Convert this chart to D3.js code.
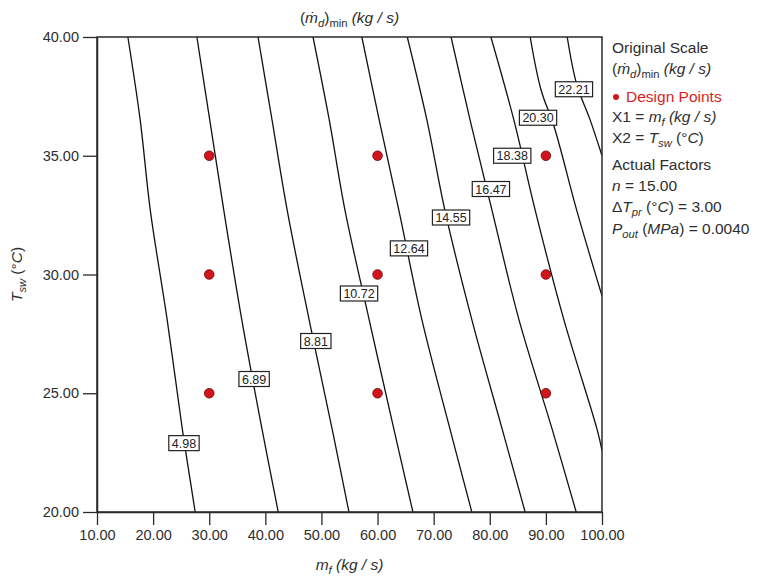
<!DOCTYPE html>
<html>
<head>
<meta charset="utf-8">
<script src="https://cdn.jsdelivr.net/npm/d3@7"></script>
<style>
  html, body { margin: 0; padding: 0; background: #fff; }
  svg { display: block; font-family: "Liberation Sans", Arial, Helvetica, sans-serif; }
</style>
</head>
<body>
<svg id="chart" width="757" height="578"></svg>
<script>
// ---------------- DATA ----------------
const xTicks = [10, 20, 30, 40, 50, 60, 70, 80, 90, 100];
const yTicks = [20, 25, 30, 35, 40];

const levels = [4.98, 6.89, 8.81, 10.72, 12.64, 14.55, 16.47, 18.38, 20.30, 22.21];

// contour paths, [m_f, T_sw]
const contour498  = [[15.5,40],[17.7,36.5],[19.5,32.7],[22.5,28.1],[25.2,23.5],[27.5,20]];
const contour689  = [[27.8,40],[30.1,36.5],[32.6,32.7],[35.8,28.1],[39.4,23.5],[42.3,20]];
const contour881  = [[38.7,40],[41.2,36.5],[43.9,32.7],[47.8,28.1],[51.9,23.5],[54.9,20]];
const contour1072 = [[48.5,40],[51.4,36.5],[54.2,32.7],[58.5,28.1],[62.9,23.5],[66.3,20]];
const contour1264 = [[57.2,40],[60.3,36.5],[63.8,32.7],[67.9,28.1],[72.9,23.5],[76.8,20]];
const contour1455 = [[65.3,40],[68.8,36.5],[72.0,32.7],[76.8,28.1],[82.2,23.5],[86.3,20]];
const contour1647 = [[73.1,40],[76.5,36.5],[80.4,32.7],[85.2,28.1],[91.1,23.5],[95.4,20]];
const contour1838 = [[80.2,40],[84.3,36.5],[88.1,32.7],[93.2,28.1],[99.1,23.5],[100,22.6]];
const contour2030 = [[87.2,40],[89.1,37.8],[91.5,36.2],[95.5,32.7],[100,29.1]];
const contour2221 = [[93.8,40],[95.5,38.0],[97.9,36.5],[100,35.0]];
const contours = [contour498, contour689, contour881, contour1072, contour1264,
                  contour1455, contour1647, contour1838, contour2030, contour2221];

// contour label anchors [m_f, T_sw]
const labelMf = [25.5, 38.0, 49.0, 56.7, 65.6, 73.1, 80.2, 84.0, 88.6, 95.0];
const labelT  = [22.9, 25.6, 27.2, 29.2, 31.1, 32.4, 33.6, 35.0, 36.6, 37.8];

// design points
const designMf = [30, 30, 30, 60, 60, 60, 90, 90, 90];
const designT  = [25, 30, 35, 25, 30, 35, 25, 30, 35];

// ---------------- LAYOUT ----------------
const svg = d3.select("#chart");
const L = 97, R = 602, T = 37, B = 512;
const x = d3.scaleLinear().domain([10, 100]).range([L, R]);
const y = d3.scaleLinear().domain([20, 40]).range([B, T]);
const ink = "#2a2a2a";

svg.append("defs").append("clipPath").attr("id", "plotclip")
  .append("rect").attr("x", L).attr("y", T).attr("width", R - L).attr("height", B - T);

// contour lines
const line = d3.line().x(d => x(d[0])).y(d => y(d[1])).curve(d3.curveCatmullRom.alpha(0.5));
const g = svg.append("g").attr("clip-path", "url(#plotclip)");
g.selectAll("path.contour").data(contours).enter().append("path")
  .attr("class", "contour")
  .attr("d", line)
  .attr("fill", "none")
  .attr("stroke", "#111")
  .attr("stroke-width", 1.3);

// contour labels
const lab = svg.append("g");
levels.forEach((lv, i) => {
  const cx = x(labelMf[i]), cy = y(labelT[i]);
  const gg = lab.append("g");
  const rect = gg.append("rect");
  const t = gg.append("text")
    .attr("x", cx).attr("y", cy + 4.5)
    .attr("text-anchor", "middle")
    .attr("font-size", 12.5)
    .attr("fill", "#222")
    .text(lv.toFixed(2));
  const w = t.node().getComputedTextLength() + 6;
  rect.attr("x", cx - w / 2).attr("y", cy - 7.5).attr("width", w).attr("height", 15)
    .attr("fill", "#fff").attr("stroke", "#222").attr("stroke-width", 1.2);
});

// design points
svg.append("g").selectAll("circle").data(designMf).enter().append("circle")
  .attr("cx", (d, i) => x(d))
  .attr("cy", (d, i) => y(designT[i]))
  .attr("r", 4.8)
  .attr("fill", "#d0161c")
  .attr("stroke", "#7a0e0e")
  .attr("stroke-width", 0.9);

// frame
svg.append("rect").attr("x", L).attr("y", T).attr("width", R - L).attr("height", B - T)
  .attr("fill", "none").attr("stroke", ink).attr("stroke-width", 1.5);

// axes
const xAxis = d3.axisBottom(x).tickValues(xTicks).tickFormat(d => d.toFixed(2))
  .tickSize(13).tickPadding(5).tickSizeOuter(0);
const yAxis = d3.axisLeft(y).tickValues(yTicks).tickFormat(d => d.toFixed(2))
  .tickSize(14).tickPadding(4).tickSizeOuter(0);
const gx = svg.append("g").attr("transform", `translate(0,${B})`).call(xAxis);
const gy = svg.append("g").attr("transform", `translate(${L},0)`).call(yAxis);
[gx, gy].forEach(a => {
  a.select(".domain").attr("stroke", ink).attr("stroke-width", 1.5);
  a.selectAll(".tick line").attr("stroke", ink).attr("stroke-width", 1.3);
  a.selectAll(".tick text").attr("font-size", 14.5).attr("fill", "#2e2e2e")
    .attr("font-family", '"Liberation Sans", Arial, sans-serif');
});

// helper to add rich text
function rich(parent, xx, yy, parts, opts = {}) {
  const size = opts.size || 15.5;
  const t = parent.append("text").attr("x", xx).attr("y", yy)
    .attr("font-size", size).attr("fill", opts.fill || "#2e2e2e");
  if (opts.anchor) t.attr("text-anchor", opts.anchor);
  if (opts.transform) t.attr("transform", opts.transform);
  let shift = 0;
  parts.forEach(p => {
    const ts = t.append("tspan").text(p.t);
    if (p.i) ts.attr("font-style", "italic");
    const target = p.sub ? 4 : 0;
    if (target !== shift) { ts.attr("dy", target - shift); shift = target; }
    if (p.sub) ts.attr("font-size", size * 0.72);
  });
  return t;
}

// top title
rich(svg, (L + R) / 2, 23, [
  {t: "("}, {t: "\u1E41", i: true}, {t: "d", i: true, sub: true}, {t: ")"},
  {t: "min", sub: true}, {t: " (kg / s)", i: true}
], {anchor: "middle", size: 15.5});

// x title
rich(svg, (L + R) / 2, 570, [
  {t: "m", i: true}, {t: "f", i: true, sub: true}, {t: " (kg / s)", i: true}
], {anchor: "middle", size: 15.5});

// y title
rich(svg, 0, 0, [
  {t: "T", i: true}, {t: "sw", i: true, sub: true}, {t: " (\u00B0"}, {t: "C", i: true}, {t: ")"}
], {anchor: "middle", size: 15.5, transform: `translate(22,${(T + B) / 2}) rotate(-90)`});

// legend
const lx = 612;
const lg = svg.append("g");
rich(lg, lx, 53, [{t: "Original Scale"}]);
rich(lg, lx, 74, [{t: "("}, {t: "\u1E41", i: true}, {t: "d", i: true, sub: true}, {t: ")"},
  {t: "min", sub: true}, {t: " (kg / s)", i: true}]);
lg.append("circle").attr("cx", lx + 4).attr("cy", 97).attr("r", 3).attr("fill", "#d0161c");
rich(lg, lx + 14, 102, [{t: "Design Points"}], {fill: "#e01b1b"});
rich(lg, lx, 122, [{t: "X1 = "}, {t: "m", i: true}, {t: "f", i: true, sub: true}, {t: " (kg / s)", i: true}]);
rich(lg, lx, 143, [{t: "X2 = "}, {t: "T", i: true}, {t: "sw", i: true, sub: true}, {t: " (\u00B0"}, {t: "C", i: true}, {t: ")"}]);
rich(lg, lx, 170, [{t: "Actual Factors"}]);
rich(lg, lx, 191, [{t: "n", i: true}, {t: " = 15.00"}]);
rich(lg, lx, 212, [{t: "\u0394"}, {t: "T", i: true}, {t: "pr", i: true, sub: true}, {t: " (\u00B0"}, {t: "C", i: true}, {t: ") = 3.00"}]);
rich(lg, lx, 234, [{t: "P", i: true}, {t: "out", i: true, sub: true}, {t: " ("}, {t: "MPa", i: true}, {t: ") = 0.0040"}]);
</script>
</body>
</html>
